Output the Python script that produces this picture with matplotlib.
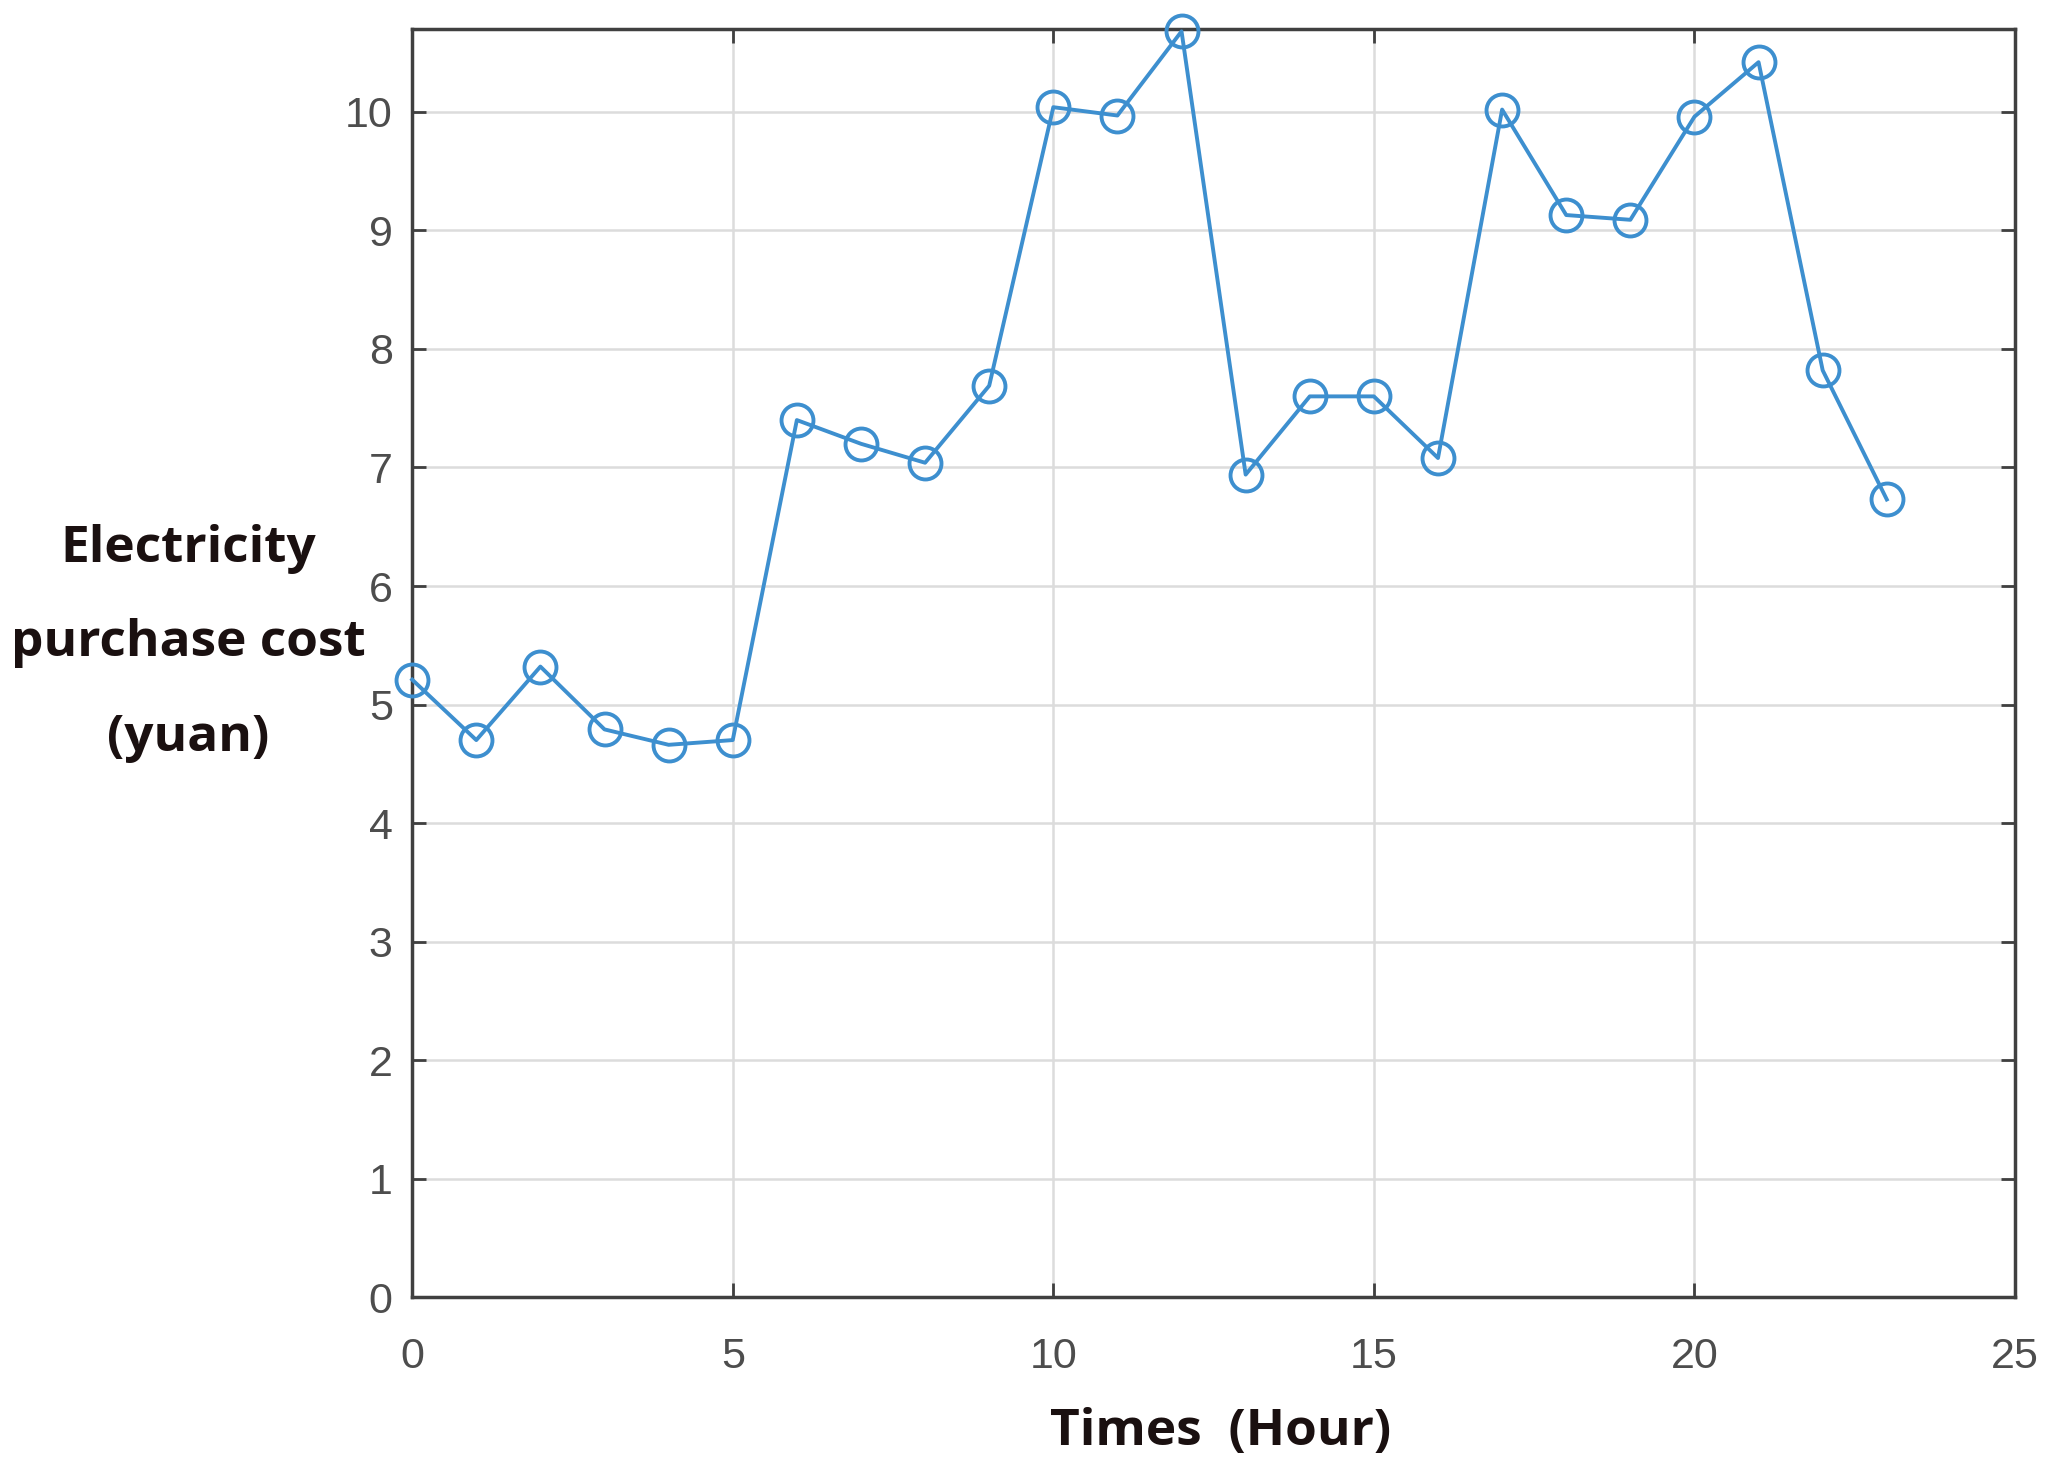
import matplotlib
matplotlib.use("Agg")
import matplotlib.pyplot as plt

hours = list(range(24))
cost = [5.21, 4.70, 5.32, 4.79, 4.66, 4.70, 7.40, 7.20, 7.04, 7.69,
        10.04, 9.97, 10.68, 6.94, 7.60, 7.60, 7.08, 10.02, 9.13, 9.09,
        9.96, 10.42, 7.82, 6.73]
xticks = [0, 5, 10, 15, 20, 25]
yticks = list(range(11))

plt.rcParams['font.family'] = ['Liberation Sans', 'DejaVu Sans']
fig = plt.figure(figsize=(20.65, 14.79), dpi=100)
ax = fig.add_axes([0.1996, 0.123, 0.7762, 0.8574])

ax.plot(hours, cost, color='#3d8fcf', linewidth=2.8, marker='o',
        markersize=23, markerfacecolor='none', markeredgewidth=2.8,
        clip_on=False, zorder=3)

ax.set_xlim(0, 25)
ax.set_ylim(0, 10.7)
ax.set_xticks(xticks)
ax.set_yticks(yticks)
ax.grid(True, color='#dcdcdc', linewidth=1.8)
ax.set_axisbelow(True)
ax.tick_params(direction='in', length=10, width=2, colors='#404040',
               labelsize=31, top=True, right=True)
ax.tick_params(axis='x', pad=29)
ax.tick_params(axis='y', pad=14)
for lab in ax.get_xticklabels() + ax.get_yticklabels():
    lab.set_color('#4d4d4d')
for s in ax.spines.values():
    s.set_color('#404040')
    s.set_linewidth(2.5)

fig.text(0.091, 0.565, "Electricity\npurchase cost\n(yuan)", ha='center',
         va='center', fontsize=37, fontweight='bold', color='#1a1010',
         linespacing=2.18, family=['Open Sans', 'DejaVu Sans'])
fig.text(0.591, 0.032, "Times  (Hour)", ha='center', va='center',
         fontsize=37, fontweight='bold', color='#1a1010',
         family=['Open Sans', 'DejaVu Sans'])

fig.savefig("out.png", dpi=100)
